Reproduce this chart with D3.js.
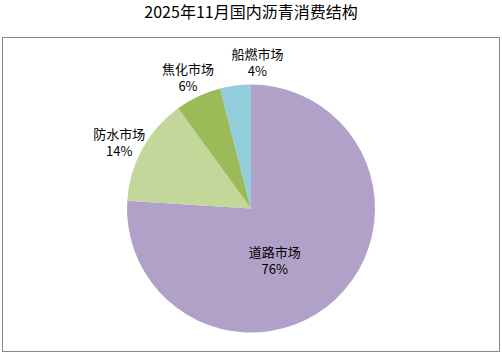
<!DOCTYPE html>
<html>
<head>
<meta charset="utf-8">
<script src="https://cdn.jsdelivr.net/npm/d3@7"></script>
<style>
  body { margin: 0; background: #fff; }
  text { font-family: "Noto Sans CJK SC", "Noto Sans", sans-serif; fill: #000; }
</style>
</head>
<body>
<svg id="pie-chart"></svg>
<script>
// chart data
const categories = ['道路市场', '防水市场', '焦化市场', '船燃市场'];
const shares = [76, 14, 6, 4];
const colors = ['#B1A0C7', '#C4D79B', '#9BBB59', '#92CDDC'];

const width = 502;
const height = 354;

const svg = d3.select('#pie-chart')
  .attr('width', width)
  .attr('height', height);

// Title
svg.append('text')
  .attr('x', width / 2)
  .attr('y', 18)
  .style('text-anchor', 'middle')
  .style('font-size', '16px')
  .text('2025年11月国内沥青消费结构');

// Plot frame
svg.append('rect')
  .attr('x', 2.5)
  .attr('y', 37.5)
  .attr('width', 497)
  .attr('height', 314)
  .attr('fill', 'none')
  .attr('stroke', '#888')
  .attr('stroke-width', 1);

const cx = 251;
const cy = 208.5;
const radius = 124;

const data = categories.map((c, i) => ({ name: c, value: shares[i], color: colors[i] }));

const pie = d3.pie()
  .sort(null)
  .value((d) => d.value);

const arc = d3.arc().innerRadius(0).outerRadius(radius);
const labelArcOuter = d3.arc().innerRadius(148).outerRadius(148);
const labelArcInner = d3.arc().innerRadius(58).outerRadius(58);

const g = svg.append('g')
  .attr('transform', `translate(${cx}, ${cy})`);

const arcs = pie(data);

g.selectAll('path')
  .data(arcs)
  .enter()
  .append('path')
  .attr('d', arc)
  .attr('fill', (d) => d.data.color);

// label nudges, like the spreadsheet's best-fit placement
const nudge = {
  '道路市场': [-16, 9],
  '防水市场': [-2, 5],
  '焦化市场': [0, 2],
  '船燃市场': [25, 0],
};

const labels = g.selectAll('.label')
  .data(arcs)
  .enter()
  .append('text')
  .attr('class', 'label')
  .style('text-anchor', 'middle')
  .style('font-size', '13px')
  .attr('transform', (d) => {
    const p = (d.data.value > 50 ? labelArcInner : labelArcOuter).centroid(d);
    const n = nudge[d.data.name] || [0, 0];
    return `translate(${p[0] + n[0]}, ${p[1] + n[1]})`;
  });

labels.append('tspan')
  .attr('x', 0)
  .attr('y', -3)
  .text((d) => d.data.name);

labels.append('tspan')
  .attr('x', 0)
  .attr('y', 14)
  .text((d) => `${d.data.value}%`);
</script>
</body>
</html>
